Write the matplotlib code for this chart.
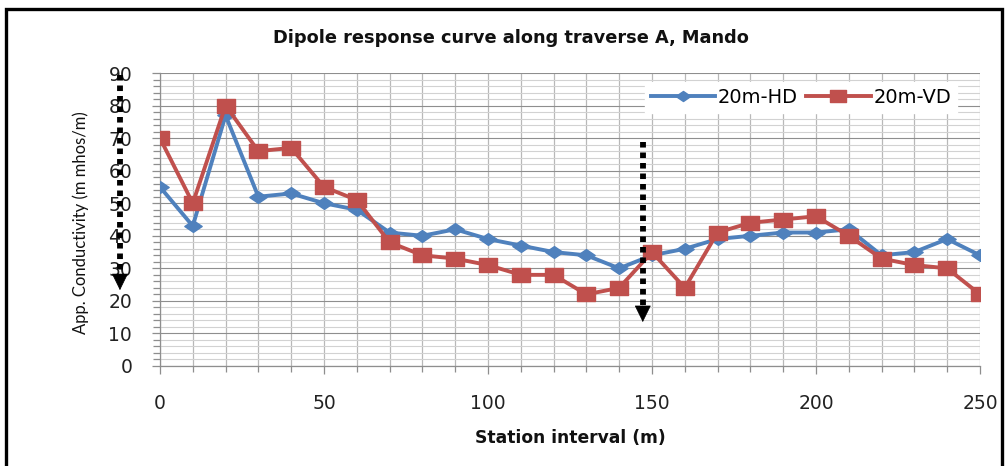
import matplotlib
matplotlib.use("Agg")
import matplotlib.pyplot as plt
from matplotlib.ticker import MultipleLocator
from matplotlib.patches import Rectangle
from matplotlib.path import Path

stations = [0, 10, 20, 30, 40, 50, 60, 70, 80, 90, 100, 110, 120, 130, 140,
            150, 160, 170, 180, 190, 200, 210, 220, 230, 240, 250]
hd_20m = [55, 43, 77, 52, 53, 50, 48, 41, 40, 42, 39, 37, 35, 34, 30,
          34, 36, 39, 40, 41, 41, 42, 34, 35, 39, 34]
vd_20m = [70, 50, 80, 66, 67, 55, 51, 38, 34, 33, 31, 28, 28, 22, 24,
          35, 24, 41, 44, 45, 46, 40, 33, 31, 30, 22]
x_ticks = [0, 50, 100, 150, 200, 250]
y_ticks = [0, 10, 20, 30, 40, 50, 60, 70, 80, 90]

title = "Dipole response curve along traverse A, Mando"
x_label = "Station interval (m)"
y_label = "App. Conductivity (m mhos/m)"

label_font = ["Lato", "DejaVu Sans"]
plt.rcParams["font.family"] = ["DejaVu Sans"]

# wide-ish markers like the spreadsheet chart
diamond = Path([(-1.0, 0.0), (0.0, 0.68), (1.0, 0.0), (0.0, -0.68), (-1.0, 0.0)],
               [Path.MOVETO, Path.LINETO, Path.LINETO, Path.LINETO, Path.CLOSEPOLY])
box = Path([(-1.0, -0.74), (1.0, -0.74), (1.0, 0.74), (-1.0, 0.74), (-1.0, -0.74)],
           [Path.MOVETO, Path.LINETO, Path.LINETO, Path.LINETO, Path.CLOSEPOLY])

fig = plt.figure(figsize=(10.08, 4.66), dpi=100)
ax = fig.add_axes([0.1587, 0.2146, 0.8135, 0.6287])

ax.plot(stations, hd_20m, color="#4F81BD", lw=2.8, marker=diamond, ms=12.5,
        label="20m-HD", zorder=3)
ax.plot(stations, vd_20m, color="#C0504D", lw=2.8, marker=box, ms=13.5,
        label="20m-VD", zorder=4)

ax.set_xlim(0, 250)
ax.set_ylim(0, 90)
ax.set_xticks(x_ticks)
ax.set_yticks(y_ticks)
ax.xaxis.set_minor_locator(MultipleLocator(10))
ax.yaxis.set_minor_locator(MultipleLocator(2))
ax.grid(which="major", axis="y", color="#8e8e8e", lw=0.8)
ax.grid(which="minor", axis="y", color="#d2d2d2", lw=0.8)
ax.grid(which="both", axis="x", color="#b8b8b8", lw=0.9)
ax.set_axisbelow(True)

for side in ("top", "right"):
    ax.spines[side].set_visible(False)
for side in ("left", "bottom"):
    ax.spines[side].set_color("#8e8e8e")
    ax.spines[side].set_linewidth(0.9)

ax.tick_params(which="both", colors="#8e8e8e", direction="out", width=0.9)
ax.tick_params(which="major", length=6, labelsize=13.5, labelcolor="#222222")
ax.tick_params(axis="y", which="minor", length=5)
ax.tick_params(axis="y", which="major", pad=14)
ax.tick_params(axis="x", which="minor", length=4)
ax.tick_params(axis="x", which="major", pad=14)

fig.text(0.507, 1 - 38 / 466, title, fontsize=12.8, fontweight="bold",
         ha="center", va="center", color="#111111")
ax.set_xlabel(x_label, fontsize=12.3, fontweight="bold", color="#111111")
ax.xaxis.label.set_va("center")
ax.xaxis.set_label_coords(0.5, (366 - 438) / 293)
ax.set_ylabel(y_label, fontsize=12, family=label_font, color="#111111")
ax.yaxis.label.set_va("center")
ax.yaxis.set_label_coords((81 - 160) / 820, 0.49)

leg = ax.legend(loc="center right", bbox_to_anchor=(0.972, 0.917), ncol=2,
                frameon=True, fontsize=14, handlelength=3.3, columnspacing=0.45,
                handletextpad=0.15, borderaxespad=0.0, borderpad=0.3,
                markerscale=0.85, fancybox=False)
leg.get_frame().set_edgecolor("white")
leg.get_frame().set_facecolor("white")
leg.get_frame().set_alpha(1.0)

# dotted arrows marking the anomaly zones
arrow_x = [-12.2, 147.2]
arrow_top = [89.5, 68.8]
arrow_tip = [23.3, 13.5]
head_len = 4.4
for xa, yt, yb in zip(arrow_x, arrow_top, arrow_tip):
    ax.plot([xa, xa], [yt, yb + head_len], color="black", lw=4.2,
            linestyle=(0, (0.95, 0.85)), dash_capstyle="butt",
            clip_on=False, zorder=6)
    ax.annotate("", xy=(xa, yb), xytext=(xa, yb + head_len + 0.5),
                arrowprops=dict(arrowstyle="-|>,head_length=0.55,head_width=0.27",
                                color="black", lw=0.5, mutation_scale=20,
                                shrinkA=0, shrinkB=0),
                annotation_clip=False, zorder=6)

# outer chart frame
fig.patches.append(Rectangle((6 / 1008, -0.05), 996 / 1008, 1.05 - 9 / 466,
                             transform=fig.transFigure, fill=False,
                             edgecolor="black", lw=2.4))

fig.savefig("out.png", dpi=100)
